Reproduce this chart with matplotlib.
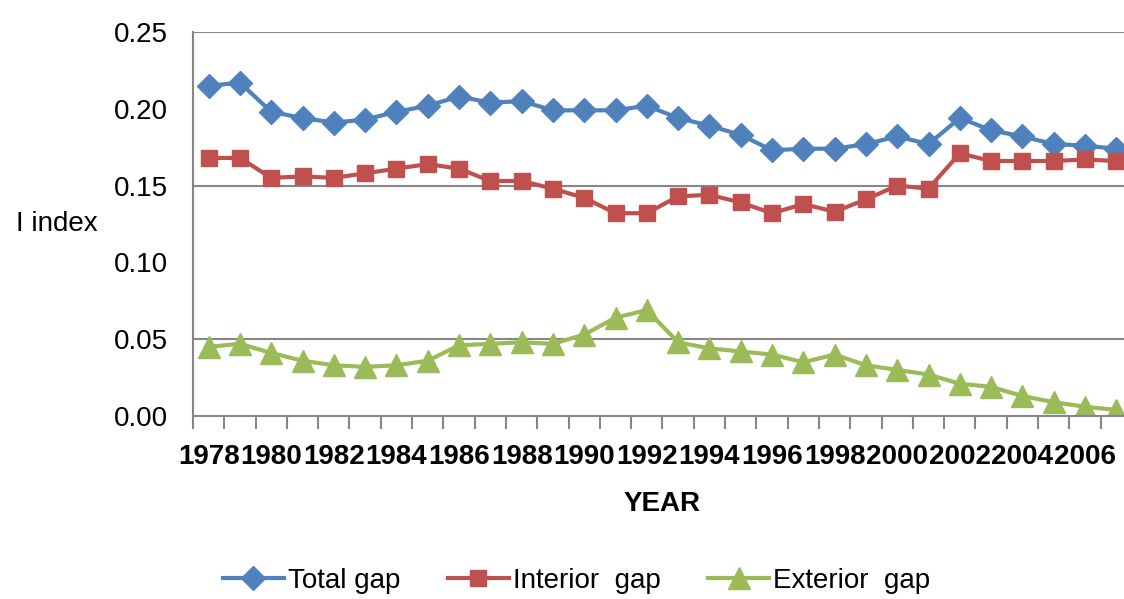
import numpy as np
import matplotlib.pyplot as plt

years = list(range(1978, 2008))
total_gap = [0.215, 0.217, 0.198, 0.194, 0.191, 0.193, 0.198, 0.202, 0.208, 0.204,
             0.205, 0.199, 0.199, 0.199, 0.202, 0.194, 0.189, 0.183, 0.173, 0.174,
             0.174, 0.177, 0.182, 0.177, 0.194, 0.186, 0.182, 0.177, 0.176, 0.174]
interior_gap = [0.168, 0.168, 0.155, 0.156, 0.155, 0.158, 0.161, 0.164, 0.161, 0.153,
                0.153, 0.148, 0.142, 0.132, 0.132, 0.143, 0.144, 0.139, 0.132, 0.138,
                0.133, 0.141, 0.150, 0.148, 0.171, 0.166, 0.166, 0.166, 0.167, 0.166]
exterior_gap = [0.045, 0.047, 0.041, 0.036, 0.033, 0.032, 0.033, 0.036, 0.046, 0.047,
                0.048, 0.047, 0.053, 0.064, 0.069, 0.048, 0.044, 0.042, 0.040, 0.035,
                0.040, 0.033, 0.030, 0.027, 0.021, 0.019, 0.013, 0.009, 0.006, 0.004]
y_ticks = [0.00, 0.05, 0.10, 0.15, 0.20, 0.25]

plt.rcParams['font.family'] = ['Liberation Sans', 'DejaVu Sans']
grey = '#868686'

fig = plt.figure(figsize=(11.24, 5.99), dpi=100)
ax = fig.add_axes([0.1717, 0.3055, 0.8354, 0.6411])

x = np.arange(len(years))
ax.plot(x, total_gap, color='#4F81BD', lw=3, marker='D', ms=12, label='Total gap')
ax.plot(x, interior_gap, color='#C0504D', lw=3, marker='s', ms=12, label='Interior  gap')
ax.plot(x, exterior_gap, color='#9BBB59', lw=3, marker='^', ms=16, label='Exterior  gap')

ax.set_xlim(-0.5, len(years) - 0.5)
ax.set_ylim(0, 0.25)

# only every other gridline shows in the original
for g in [0.05, 0.15, 0.25]:
    ax.axhline(g, color=grey, lw=1.5, zorder=0)

ax.set_yticks(y_ticks)
ax.set_yticklabels([f"{v:.2f}" for v in y_ticks])
ax.set_yticks([0.0, 0.05, 0.15, 0.25], minor=True)
ax.tick_params(axis='y', which='major', length=0, pad=18, labelsize=20)
ax.tick_params(axis='y', which='minor', length=8, width=1.5, color=grey)

ax.set_xticks(x[::2])
ax.set_xticklabels([str(y) for y in years[::2]], fontweight='bold')
ax.set_xticks(np.arange(len(years) + 1) - 0.5, minor=True)
ax.tick_params(axis='x', which='major', length=0, pad=20, labelsize=20)
ax.tick_params(axis='x', which='minor', length=9, width=1.5, color=grey)

for s in ['top', 'right']:
    ax.spines[s].set_visible(False)
for s in ['left', 'bottom']:
    ax.spines[s].set_color(grey)
    ax.spines[s].set_linewidth(1.5)

ax.set_xlabel('YEAR', fontsize=20, fontweight='bold', labelpad=15)
ax.set_ylabel('I index', fontsize=20, rotation=0, va='center', ha='center')
ax.yaxis.set_label_coords(-0.145, 0.5)

fig.legend(loc='center', bbox_to_anchor=(0.513, 0.03), ncol=3, frameon=False,
           fontsize=20, handlelength=2.2, columnspacing=1.7, handletextpad=0.15)

plt.savefig('out.png', dpi=100)
